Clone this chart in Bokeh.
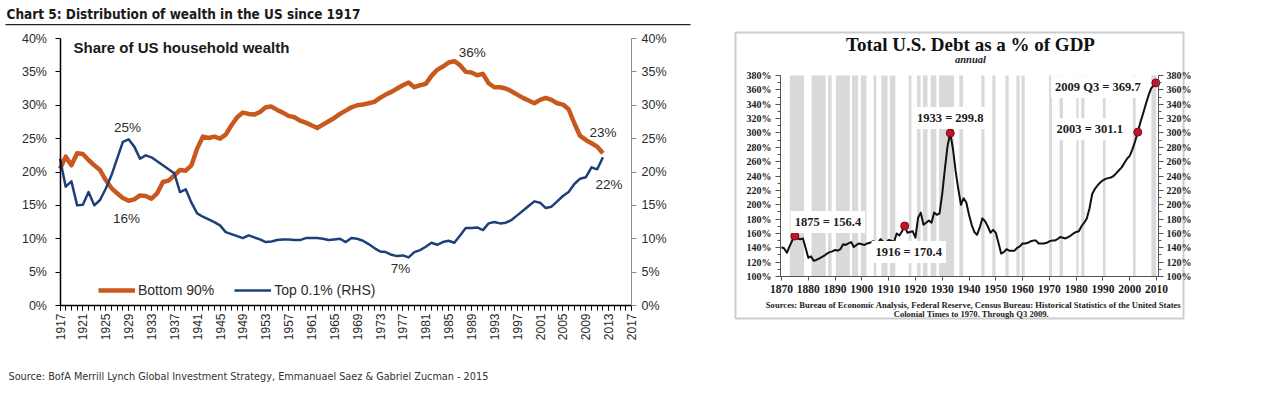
import math
from bokeh.plotting import figure
from bokeh.models import (Range1d, LinearAxis, Label, Legend, LegendItem,
                          BoxAnnotation, FixedTicker, PrintfTickFormatter)
from bokeh.layouts import row
from bokeh.embed import file_html
from bokeh.resources import INLINE

# ---------------- data: left chart (share of US household wealth, %) ----------------
wealth_years = list(range(1917, 2013))
bottom90 = [
    20.5, 22.3, 21.0, 22.8, 22.7, 21.8, 21.0, 20.3, 18.8, 17.6,   # 1917-1926
    16.8, 16.1, 15.7, 15.9, 16.5, 16.4, 16.0, 16.8, 18.5, 18.7,   # 1927-1936
    19.5, 20.3, 20.2, 21.0, 23.5, 25.3, 25.1, 25.3, 25.0, 25.6,   # 1937-1946
    27.0, 28.2, 28.9, 28.7, 28.6, 29.0, 29.7, 29.8, 29.3, 28.9,   # 1947-1956
    28.4, 28.2, 27.7, 27.4, 27.0, 26.6, 27.1, 27.6, 28.1, 28.7,   # 1957-1966
    29.2, 29.7, 30.0, 30.1, 30.3, 30.5, 31.1, 31.6, 32.0, 32.5,   # 1967-1976
    33.0, 33.4, 32.7, 33.0, 33.2, 34.4, 35.3, 35.8, 36.4, 36.6,   # 1977-1986
    36.0, 35.0, 34.9, 34.5, 34.7, 33.3, 32.7, 32.7, 32.5, 32.1,   # 1987-1996
    31.6, 31.1, 30.7, 30.3, 30.8, 31.1, 30.8, 30.3, 30.1, 29.4,   # 1997-2006
    27.3, 25.4, 24.8, 24.3, 23.8, 22.8,                           # 2007-2012
]
top01 = [
    22.0, 17.8, 18.6, 15.0, 15.1, 17.0, 15.0, 15.8, 17.5, 19.5,   # 1917-1926
    22.0, 24.5, 24.9, 23.8, 22.0, 22.5, 22.2, 21.6, 21.0, 20.4,   # 1927-1936
    19.8, 17.0, 17.4, 15.4, 13.8, 13.3, 12.9, 12.5, 12.0, 11.0,   # 1937-1946
    10.7, 10.4, 10.1, 10.5, 10.2, 9.9, 9.5, 9.6, 9.8, 9.9,        # 1947-1956
    9.9, 9.8, 9.8, 10.1, 10.1, 10.1, 10.0, 9.8, 9.9, 10.0,        # 1957-1966
    9.5, 10.1, 10.0, 9.7, 9.2, 8.6, 8.1, 8.0, 7.6, 7.4,           # 1967-1976
    7.5, 7.2, 8.0, 8.3, 8.8, 9.4, 9.1, 9.5, 9.7, 9.4,             # 1977-1986
    10.5, 11.6, 11.6, 11.7, 11.3, 12.3, 12.5, 12.3, 12.4, 12.8,   # 1987-1996
    13.5, 14.2, 14.9, 15.6, 15.4, 14.6, 14.8, 15.6, 16.4, 17.0,   # 1997-2006
    18.2, 19.0, 19.2, 20.7, 20.4, 22.2,                           # 2007-2012
]
wealth_axis_years = (1917, 2017)
wealth_axis_pct = (0, 40)
wealth_xticks = list(range(1917, 2018, 4))
wealth_minor = list(range(1917, 2018))
wealth_yticks = [0, 5, 10, 15, 20, 25, 30, 35, 40]

# ---------------- data: right chart (total US debt as % of GDP) ----------------
debt_years = list(range(1870, 2009)) + [2009.75]
debt_pct = [
    141, 139, 133, 142, 150, 156.4, 153, 152, 153, 140,          # 1870s
    126, 128, 122, 123, 125, 127, 129, 132, 134, 135,            # 1880s
    137, 136, 138, 145, 144, 146, 148, 141, 144, 146,            # 1890s
    145, 144, 146, 147, 149, 148, 147, 152, 148, 147,            # 1900s
    151, 150, 148, 160, 157, 163, 170.4, 161, 162, 163,          # 1910s
    154, 182, 189, 172, 175, 178, 175, 189, 186, 188,            # 1920s
    215, 250, 282, 299.8, 278, 247, 222, 200, 209, 203,          # 1930s
    186, 172, 162, 158, 168, 181, 177, 170, 161, 165,            # 1940s
    161, 147, 132, 134, 138, 136, 136, 136, 140, 142,            # 1950s
    146, 146, 147, 149, 150, 150, 146, 146, 146, 147,            # 1960s
    149, 150, 150, 152, 155, 154, 153, 155, 157, 160,            # 1970s
    162, 163, 170, 175, 181, 195, 215, 222, 227, 231,            # 1980s
    234, 236, 237, 238, 240, 244, 248, 252, 258, 264,            # 1990s
    268, 277, 288, 301.1, 315, 327, 340, 352, 362,               # 2000-2008
    369.7,                                                       # 2009 Q3
]
rec_start = [1873.1, 1881.2, 1887.4, 1890.3, 1896.3, 1899.6, 1904.4, 1907.3, 1910.4,
             1917.5, 1920.6, 1922.8, 1925.7, 1928.8, 1936.4, 1944.6, 1948.7, 1953.6,
             1957.7, 1959.6, 1969.9, 1973.8, 1980.1, 1981.9, 1990.0, 2001.2, 2008.1]
rec_end = [1878.4, 1886.5, 1888.7, 1895.5, 1898.6, 1901.7, 1905.4, 1909.6, 1912.5,
           1918.5, 1921.9, 1924.5, 1927.8, 1934.4, 1937.8, 1945.8, 1949.9, 1954.8,
           1958.9, 1960.8, 1971.0, 1975.1, 1980.9, 1983.1, 1991.0, 2002.2, 2009.9]
ann_years = [1875, 1916, 1933, 2003, 2009.75]
ann_values = [156.4, 170.4, 299.8, 301.1, 369.7]
ann_texts = ["1875 = 156.4", "1916 = 170.4", "1933 = 299.8", "2003 = 301.1", "2009 Q3 = 369.7"]
debt_axis_years = (1869.6, 2010.75)
debt_axis_pct = (100, 380)
debt_xticks = list(range(1870, 2011, 10))
debt_yticks = list(range(100, 381, 20))
debt_yminor = list(range(100, 381, 10))

# ---------------- styles ----------------
SANS = "Liberation Sans"
NARROW = "'Liberation Sans Narrow', 'DejaVu Sans Condensed', sans-serif"
SERIF = "Liberation Serif"
ORANGE = "#c8581e"
BLUE = "#1f3f7a"
TXT = "#2b2b2b"
H = 390

# page-pixel layout of the left chart: plot area 59.5..631 x, 38..305 y
W1 = 708
kx1 = (631 - 59.5) / (wealth_axis_years[1] - wealth_axis_years[0])
ky1 = (305 - 38) / (wealth_axis_pct[1] - wealth_axis_pct[0])
x1_range = Range1d(wealth_axis_years[0] - 59.5 / kx1, wealth_axis_years[0] + (W1 - 59.5) / kx1)
y1_range = Range1d(wealth_axis_pct[0] - (H - 305) / ky1, wealth_axis_pct[1] + 38 / ky1)

# =============== LEFT FIGURE ===============
p1 = figure(width=W1, height=H, x_range=x1_range, y_range=y1_range,
            output_backend="svg", toolbar_location=None,
            min_border_left=0, min_border_right=0, min_border_top=0, min_border_bottom=0)
p1.outline_line_color = None
p1.grid.visible = False
p1.background_fill_color = "white"
p1.border_fill_color = "white"

xa = p1.xaxis[0]
xa.fixed_location = wealth_axis_pct[0]
xa.bounds = wealth_axis_years
xa.ticker = FixedTicker(ticks=wealth_xticks, minor_ticks=wealth_minor)
xa.major_label_orientation = math.pi / 2
xa.major_label_text_font = SANS
xa.major_label_text_font_size = "12px"
xa.major_label_text_color = TXT
xa.major_label_standoff = 3
xa.axis_line_color = "black"
xa.axis_line_width = 1.5
xa.major_tick_out = 5
xa.major_tick_in = 0
xa.minor_tick_out = 5
xa.minor_tick_in = 0
xa.major_tick_line_color = "black"
xa.minor_tick_line_color = "black"

ya = p1.yaxis[0]
ya.fixed_location = wealth_axis_years[0]
ya.bounds = wealth_axis_pct
ya.ticker = FixedTicker(ticks=wealth_yticks)
ya.formatter = PrintfTickFormatter(format="%d%%")
ya.major_label_text_font = SANS
ya.major_label_text_font_size = "12.5px"
ya.major_label_text_color = TXT
ya.major_label_standoff = 8
ya.axis_line_color = "black"
ya.axis_line_width = 1.5
ya.major_tick_out = 5
ya.major_tick_in = 0
ya.minor_tick_line_color = None
ya.major_tick_line_color = "black"

ra = LinearAxis(ticker=FixedTicker(ticks=wealth_yticks),
                formatter=PrintfTickFormatter(format="%d%%"))
ra.fixed_location = wealth_axis_years[1]
ra.bounds = wealth_axis_pct
ra.major_label_text_font = SANS
ra.major_label_text_font_size = "12.5px"
ra.major_label_text_color = TXT
ra.major_label_standoff = 5
ra.axis_line_color = "#8c8c8c"
ra.major_tick_line_color = "#8c8c8c"
ra.major_tick_out = 5
ra.major_tick_in = 0
ra.minor_tick_line_color = None
p1.add_layout(ra, "right")

r_b = p1.line(wealth_years, bottom90, line_color=ORANGE, line_width=4.5, line_join="round")
r_t = p1.line(wealth_years, top01, line_color=BLUE, line_width=2.5, line_join="round")

legend = Legend(items=[LegendItem(label="Bottom 90%", renderers=[r_b]),
                       LegendItem(label="Top 0.1% (RHS)", renderers=[r_t])],
                orientation="horizontal", location=(98, H - 298), glyph_width=37, glyph_height=16,
                label_standoff=3, spacing=20, padding=0, margin=0,
                border_line_color=None, background_fill_alpha=0,
                label_text_font=SANS, label_text_font_size="14px", label_text_color=TXT)
p1.add_layout(legend)

def ann(fig, x, y, text, dx, dy, **kw):
    fig.add_layout(Label(x=x, y=y, text=text, x_offset=dx, y_offset=dy,
                         text_align="center", text_baseline="middle", **kw))

def scr(fig, x, y, text, **kw):
    fig.add_layout(Label(x=x, y=H - y, x_units="screen", y_units="screen", text=text,
                         text_baseline="middle", **kw))

i_b_max = bottom90.index(max(bottom90))
i_b_min = bottom90.index(min(bottom90[:30]))
i_t_max = top01.index(max(top01))
i_t_min = top01.index(min(top01))
lkw = dict(text_font=SANS, text_font_size="13.5px", text_color=TXT)
ann(p1, wealth_years[i_t_max], top01[i_t_max], "25%", -1, 12, **lkw)
ann(p1, wealth_years[i_b_min], bottom90[i_b_min], "16%", -2, -18, **lkw)
ann(p1, wealth_years[i_b_max], bottom90[i_b_max], "36%", 18, 9, **lkw)
ann(p1, wealth_years[i_t_min], top01[i_t_min], "7%", -8, -11, **lkw)
ann(p1, wealth_years[-1], bottom90[-1], "23%", 0, 21, **lkw)
ann(p1, wealth_years[-1], top01[-1], "22%", 6, -27, **lkw)

scr(p1, 6, 13, "Chart 5: Distribution of wealth in the US since 1917",
    text_font=NARROW, text_font_style="bold", text_font_size="13.5px", text_color="#1a1a1a")
p1.add_layout(BoxAnnotation(left=5, right=690, bottom=H - 24.8, top=H - 23.4,
                            left_units="screen", right_units="screen",
                            top_units="screen", bottom_units="screen",
                            fill_color="#222222", fill_alpha=1, line_alpha=0))
scr(p1, 73, 47, "Share of US household wealth",
    text_font=SANS, text_font_style="bold", text_font_size="15px", text_color="#1a1a1a")
scr(p1, 8, 376, "Source: BofA Merrill Lynch Global Investment Strategy, Emmanuael Saez & Gabriel Zucman - 2015",
    text_font=NARROW, text_font_size="10.8px", text_color="#333333")

# =============== RIGHT FIGURE ===============
W2 = 1280 - W1
OX = W1
kx2 = (1156 - 781) / 140.0
ky2 = (276 - 75) / (debt_axis_pct[1] - debt_axis_pct[0])
x2_range = Range1d(1870 - (781 - OX) / kx2, 1870 + (OX + W2 - 781) / kx2)
y2_range = Range1d(debt_axis_pct[0] - (H - 276) / ky2, debt_axis_pct[1] + 75 / ky2)

p2 = figure(width=W2, height=H, x_range=x2_range, y_range=y2_range,
            output_backend="svg", toolbar_location=None,
            min_border_left=0, min_border_right=0, min_border_top=0, min_border_bottom=0)
p2.outline_line_color = None
p2.grid.visible = False
p2.background_fill_color = "white"
p2.border_fill_color = "white"

def style_serif_axis(ax, size):
    ax.major_label_text_font = SERIF
    ax.major_label_text_font_style = "bold"
    ax.major_label_text_font_size = size
    ax.major_label_text_color = "#1a1a1a"
    ax.axis_line_color = "#555555"
    ax.major_tick_line_color = "#555555"
    ax.minor_tick_line_color = "#555555"
    ax.major_tick_out = 5
    ax.major_tick_in = 0
    ax.minor_tick_out = 3
    ax.minor_tick_in = 0

xb = p2.xaxis[0]
xb.fixed_location = debt_axis_pct[0]
xb.bounds = debt_axis_years
xb.ticker = FixedTicker(ticks=debt_xticks)
style_serif_axis(xb, "11.5px")
xb.major_tick_out = 4
xb.major_label_standoff = 4

yb = p2.yaxis[0]
yb.fixed_location = debt_axis_years[0]
yb.bounds = debt_axis_pct
yb.ticker = FixedTicker(ticks=debt_yticks, minor_ticks=debt_yminor)
yb.formatter = PrintfTickFormatter(format="%d%%")
style_serif_axis(yb, "10px")
yb.major_label_standoff = 4

rb = LinearAxis(ticker=FixedTicker(ticks=debt_yticks, minor_ticks=debt_yminor),
                formatter=PrintfTickFormatter(format="%d%%"))
rb.fixed_location = debt_axis_years[1]
rb.bounds = debt_axis_pct
style_serif_axis(rb, "10px")
rb.major_label_standoff = 3
p2.add_layout(rb, "right")

p2.quad(left=rec_start, right=rec_end, bottom=debt_axis_pct[0], top=debt_axis_pct[1],
        fill_color="#d9d9d9", line_color=None)
p2.line(debt_years, debt_pct, line_color="#111111", line_width=2, line_join="round")
p2.scatter(ann_years, ann_values, size=8, fill_color="#c0142a", line_color="#7d0a14",
           line_width=1)

akw = dict(text_font=SERIF, text_font_style="bold", text_font_size="12.5px",
           text_color="#1a1a1a", background_fill_color="white", padding=4)
offsets = [(33, 14), (4, -26), (0, 15), (-48, 3), (-58, -4)]
for xx, yy, tt, (dx, dy) in zip(ann_years, ann_values, ann_texts, offsets):
    ann(p2, xx, yy, tt, dx, dy, **akw)

scr(p2, 970 - OX, 44, "Total U.S. Debt as a % of GDP", text_align="center",
    text_font=SERIF, text_font_style="bold", text_font_size="19px", text_color="#111111")
scr(p2, 970 - OX, 59, "annual", text_align="center",
    text_font=SERIF, text_font_style="bold italic", text_font_size="10.5px", text_color="#222222")
scr(p2, 973 - OX, 304,
    "Sources: Bureau of Economic Analysis, Federal Reserve, Census Bureau: Historical Statistics of the United States",
    text_align="center", text_font=SERIF, text_font_style="bold", text_font_size="8.6px",
    text_color="#222222")
scr(p2, 973 - OX, 313, "Colonial Times to 1970.   Through Q3 2009.",
    text_align="center", text_font=SERIF, text_font_style="bold", text_font_size="8.6px",
    text_color="#222222")
p2.add_layout(BoxAnnotation(left=735 - OX, right=1183 - OX, bottom=H - 318, top=H - 32,
                            left_units="screen", right_units="screen",
                            top_units="screen", bottom_units="screen",
                            fill_alpha=0, line_color="#5a5a5a", line_width=2))

layout = row(p1, p2)
open("out.html", "w").write(file_html(layout, INLINE))
